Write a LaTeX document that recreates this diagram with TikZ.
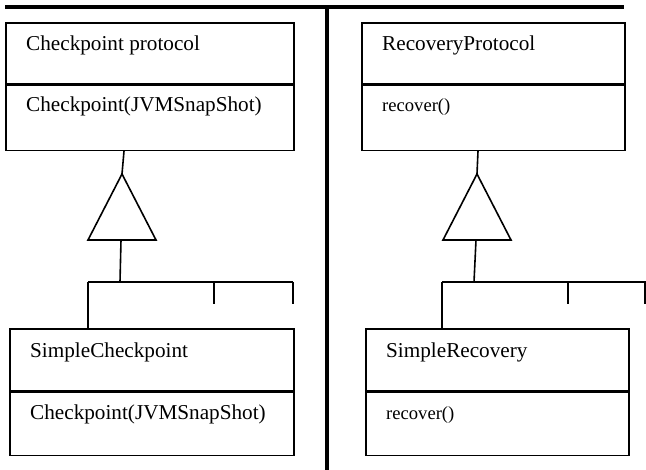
\documentclass[tikz,border=0pt]{standalone}
\usepackage{fontspec}
\setmainfont{Liberation Serif}
\usetikzlibrary{positioning,calc}
\definecolor{ink}{HTML}{000000}

\begin{document}
\begin{tikzpicture}[x=1pt,y=-1pt,font=\fontsize{21.2}{25}\selectfont,
    classpart/.style={draw=ink,line width=1.6pt,anchor=north west,inner sep=0pt},
    txt/.style={anchor=west,inner sep=0pt,text=ink},
    small/.style={font=\fontsize{18.6}{22}\selectfont},
    link/.style={draw=ink,line width=1.6pt},
    rule/.style={draw=ink,line width=4pt}]
    \useasboundingbox (0,0) rectangle (646,470);
    % separating rules
    \draw[rule] (5,7) -- (624,7);
    \draw[rule] (327,7) -- (327,470);

    % checkpoint side: super class
    \node[classpart,minimum width=288,minimum height=61] (cpHead) at (5,22) {};
    \node[classpart,minimum width=288,minimum height=65] (cpOps) at (cpHead.south west) {};
    \node[txt] (cpName) at ($(cpHead.north west)+(21,23)$) {Checkpoint protocol};
    \node[txt] (cpMeth) at ($(cpOps.north west)+(21,22)$) {Checkpoint(JVMSnapShot)};
    % inheritance triangle
    \coordinate (cpStem) at ($(cpOps.south west)+(119,0)$);
    \coordinate (cpApex) at (122,174);
    \coordinate (cpBase) at (121,240);
    \coordinate (cpBar) at (120,282);
    \coordinate (cpLeft) at (88,282);
    \draw[link] (cpStem) -- (cpApex);
    \draw[link,line join=miter] (cpApex) -- ++(-34,66) -- ++(68,0) -- cycle;
    \draw[link] (cpBase) -- (cpBar);
    \draw[link] (cpLeft) -- (293,282);
    \foreach \x in {214,293} {
      \draw[link] (\x,282) -- (\x,304);
    }
    % checkpoint side: sub class
    \node[classpart,minimum width=284,minimum height=62] (scHead) at (9,328) {};
    \node[classpart,minimum width=284,minimum height=63] (scOps) at (scHead.south west) {};
    \node[txt] (scName) at ($(scHead.north west)+(21,24)$) {SimpleCheckpoint};
    \node[txt] (scMeth) at ($(scOps.north west)+(21,23)$) {Checkpoint(JVMSnapShot)};
    \draw[link] (cpLeft) -- (cpLeft |- scHead.north);

    % recovery side: super class
    \node[classpart,minimum width=263,minimum height=61] (rpHead) at (361,22) {};
    \node[classpart,minimum width=263,minimum height=65] (rpOps) at (rpHead.south west) {};
    \node[txt] (rpName) at ($(rpHead.north west)+(21,23)$) {RecoveryProtocol};
    \node[txt,small] (rpMeth) at ($(rpOps.north west)+(21,22)$) {recover()};
    % inheritance triangle
    \coordinate (rpStem) at ($(rpOps.south west)+(117,0)$);
    \coordinate (rpApex) at (477,174);
    \coordinate (rpBase) at (476,240);
    \coordinate (rpBar) at (474,282);
    \coordinate (rpLeft) at (442,282);
    \draw[link] (rpStem) -- (rpApex);
    \draw[link,line join=miter] (rpApex) -- ++(-34,66) -- ++(68,0) -- cycle;
    \draw[link] (rpBase) -- (rpBar);
    \draw[link] (rpLeft) -- (646,282);
    \foreach \x in {568,645} {
      \draw[link] (\x,282) -- (\x,304);
    }
    % recovery side: sub class
    \node[classpart,minimum width=263,minimum height=62] (srHead) at (365,328) {};
    \node[classpart,minimum width=263,minimum height=63] (srOps) at (srHead.south west) {};
    \node[txt] (srName) at ($(srHead.north west)+(21,24)$) {SimpleRecovery};
    \node[txt,small] (srMeth) at ($(srOps.north west)+(21,23)$) {recover()};
    \draw[link] (rpLeft) -- (rpLeft |- srHead.north);
\end{tikzpicture}
\end{document}
